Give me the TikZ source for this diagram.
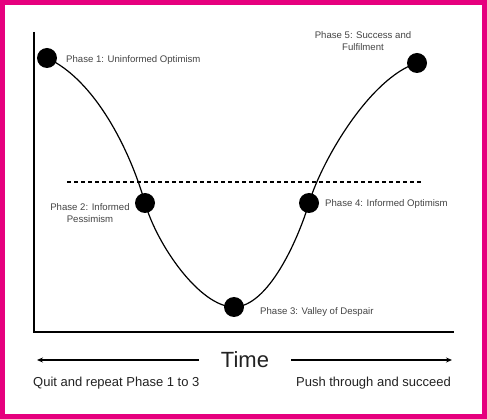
\documentclass[tikz,border=0pt]{standalone}
\usepackage{fontspec}
\setmainfont{Liberation Sans}
\usetikzlibrary{arrows.meta}
\definecolor{framepink}{HTML}{E6007E}
\definecolor{labelgray}{HTML}{444444}
\definecolor{textdark}{HTML}{222222}
\tikzset{
  phasedot/.style={circle,fill=black,minimum size=20pt,inner sep=0pt},
  phaselabel/.style={text=labelgray,font=\fontsize{9.6}{11.5}\selectfont,inner sep=0pt,align=center},
  bottomtext/.style={text=textdark,font=\fontsize{13}{15}\selectfont,inner sep=0pt},
  axisline/.style={line width=1.5pt,black},
  timearrow/.style={line width=1.3pt,-{Stealth[length=6pt,width=5pt]}},
}
\begin{document}
\begin{tikzpicture}[x=1pt,y=-1pt]
\fill[framepink] (0,0) rectangle (487,419);
\fill[white] (5,5) rectangle (482,414);
\useasboundingbox (0,0) rectangle (487,419);
% axes
\coordinate (ytop) at (34,32);
\coordinate (origin) at (34,332);
\coordinate (xend) at (454,332);
\draw[axisline] (ytop) -- (origin) -- (xend);
% dashed line
\coordinate (dl) at (67,182);
\coordinate (dr) at (423,182);
\draw[line width=2pt,dash pattern=on 4pt off 3pt] (dl) -- (dr);
% curve
\coordinate (p1) at (47,58);
\coordinate (p2) at (145,203);
\coordinate (p3) at (234,307);
\coordinate (p4) at (309,203);
\coordinate (p5) at (417,63);
\draw[line width=1.2pt] (p1) .. controls (95,80) and (130,150) .. (p2)
  .. controls (157,245) and (200,307) .. (p3)
  .. controls (268,307) and (298,240) .. (p4)
  .. controls (322,160) and (370,78) .. (p5);
% dots
\node[phasedot] (d1) at (p1) {};
\node[phasedot] (d2) at (p2) {};
\node[phasedot] (d3) at (p3) {};
\node[phasedot] (d4) at (p4) {};
\node[phasedot] (d5) at (p5) {};
% labels
\node[phaselabel,anchor=west] (l1) at (66,60) {Phase 1: Uninformed Optimism};
\node[phaselabel] (l5) at (363,41) {Phase 5: Success and\\Fulfilment};
\node[phaselabel] (l2) at (90,213) {Phase 2: Informed\\Pessimism};
\node[phaselabel,anchor=west] (l4) at (325,204) {Phase 4: Informed Optimism};
\node[phaselabel,anchor=west] (l3) at (260,312) {Phase 3: Valley of Despair};
% time
\node[text=textdark,font=\fontsize{22}{26}\selectfont,inner sep=0pt] (time) at (245,360) {Time};
\coordinate (la) at (199,360);
\coordinate (lb) at (37,360);
\coordinate (ra) at (291,360);
\coordinate (rb) at (452,360);
\draw[timearrow] (la) -- (lb);
\draw[timearrow] (ra) -- (rb);
\node[bottomtext,anchor=west] (q) at (33,383) {Quit and repeat Phase 1 to 3};
\node[bottomtext,anchor=east] (p) at (451,383) {Push through and succeed};
\end{tikzpicture}
\end{document}
